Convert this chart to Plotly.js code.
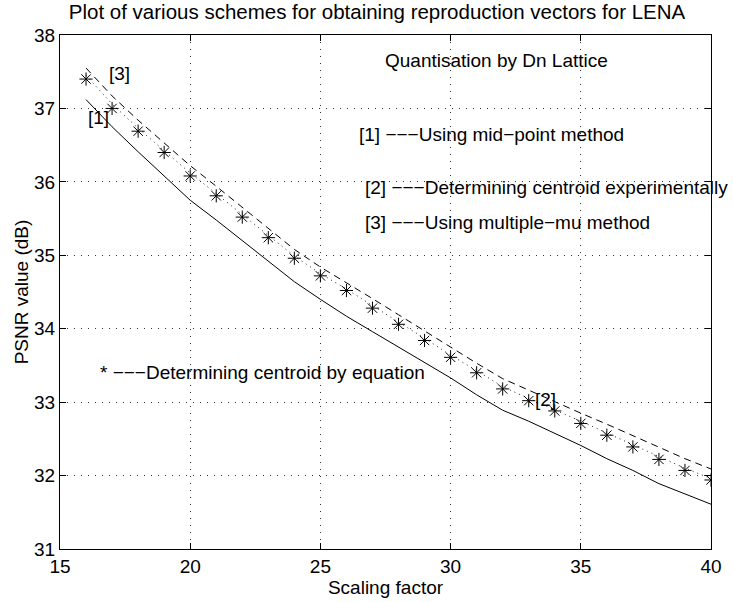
<!DOCTYPE html>
<html>
<head>
<meta charset="utf-8">
<script src="https://cdn.plot.ly/plotly-3.0.1.min.js"></script>
<style>
  html, body { margin: 0; padding: 0; background: #fff; }
  #chart { width: 733px; height: 602px; }
</style>
</head>
<body>
<div id="chart"></div>
<script>
// Scaling factors used for the Dn lattice quantiser
const scaling = [16, 17, 18, 19, 20, 21, 22, 23, 24, 25, 26, 27, 28, 29, 30,
                 31, 32, 33, 34, 35, 36, 37, 38, 39, 40];

// [1] mid-point method (solid)
const psnrMidpoint = [37.12, 36.75, 36.41, 36.08, 35.75, 35.48, 35.20, 34.93, 34.64, 34.40,
                      34.17, 33.96, 33.75, 33.55, 33.33, 33.10, 32.89, 32.74, 32.58, 32.41,
                      32.23, 32.07, 31.89, 31.75, 31.61];

// [2] centroid determined experimentally (dotted)
const psnrExperimental = [37.45, 37.06, 36.73, 36.43, 36.12, 35.84, 35.55, 35.27, 34.99, 34.75,
                          34.54, 34.31, 34.09, 33.87, 33.64, 33.43, 33.21, 33.05, 32.90, 32.74,
                          32.58, 32.42, 32.25, 32.10, 31.96];

// [3] multiple-mu method (dashed)
const psnrMultipleMu = [37.55, 37.17, 36.84, 36.53, 36.22, 35.94, 35.65, 35.37, 35.08, 34.84,
                        34.63, 34.41, 34.19, 33.97, 33.74, 33.53, 33.32, 33.16, 33.00, 32.85,
                        32.70, 32.54, 32.38, 32.23, 32.09];

// * centroid determined by equation (markers)
const psnrEquation = [37.40, 37.00, 36.69, 36.40, 36.08, 35.81, 35.52, 35.24, 34.96, 34.72,
                      34.52, 34.28, 34.06, 33.84, 33.61, 33.40, 33.18, 33.02, 32.88, 32.71,
                      32.55, 32.39, 32.22, 32.07, 31.94];

const xTicks = [15, 20, 25, 30, 35, 40];
const yTicks = [31, 32, 33, 34, 35, 36, 37, 38];

const FONT = 'Liberation Sans, Arial, Helvetica, sans-serif';
const FS = 19;

const traces = [
  { x: scaling, y: psnrMidpoint, mode: 'lines', name: '[1]',
    line: { color: '#000', width: 1 } },
  { x: scaling, y: psnrExperimental, mode: 'lines', name: '[2]',
    line: { color: '#222', width: 1, dash: '1px,4px' } },
  { x: scaling, y: psnrMultipleMu, mode: 'lines', name: '[3]',
    line: { color: '#000', width: 1, dash: '7px,5px' } },
  { x: scaling, y: psnrEquation, mode: 'markers', name: '*',
    marker: { symbol: 'asterisk-open', size: 11, color: '#000',
              line: { color: '#000', width: 1 } } }
];

function note(text, x, y, anchor) {
  return { text: text, x: x, y: y, xref: 'x', yref: 'y',
           xanchor: anchor || 'left', yanchor: 'middle', showarrow: false,
           font: { family: FONT, size: FS, color: '#000' } };
}

const axisCommon = {
  showline: true, linecolor: '#000', linewidth: 1, mirror: 'ticks',
  ticks: 'inside', ticklen: 6, tickwidth: 1, tickcolor: '#000',
  showgrid: true, gridcolor: '#333', gridwidth: 1, griddash: '1px,6px',
  zeroline: false, tickfont: { family: FONT, size: FS, color: '#000' }
};

const layout = {
  width: 733, height: 602,
  margin: { l: 60, r: 22, t: 35, b: 53 },
  paper_bgcolor: '#fff', plot_bgcolor: '#fff',
  showlegend: false,
  font: { family: FONT, size: FS, color: '#000' },
  title: { text: 'Plot of various schemes for obtaining reproduction vectors for LENA',
           xref: 'paper', x: 0.487, yref: 'container', y: 0.981, yanchor: 'middle',
           font: { family: FONT, size: 20.5, color: '#000' } },
  xaxis: Object.assign({}, axisCommon, {
    range: [15, 40], tickvals: xTicks, ticktext: xTicks.map(String),
    title: { text: 'Scaling factor', standoff: 4, font: { family: FONT, size: FS } }
  }),
  yaxis: Object.assign({}, axisCommon, {
    range: [31, 38], tickvals: yTicks, ticktext: yTicks.map(String),
    title: { text: 'PSNR value (dB)', standoff: 0, font: { family: FONT, size: FS } }
  }),
  annotations: [
    note('Quantisation by Dn Lattice', 31.78, 37.65, 'center'),
    note('[1] \u2212\u2212\u2212Using mid\u2212point method', 26.41, 36.64),
    note('[2] \u2212\u2212\u2212Determining centroid experimentally', 26.64, 35.93),
    note('[3] \u2212\u2212\u2212Using multiple\u2212mu method', 26.64, 35.45),
    note('* \u2212\u2212\u2212Determining centroid by equation', 16.46, 33.41),
    note('[3]', 16.80, 37.48),
    note('[1]', 16.00, 36.87),
    note('[2]', 33.16, 33.03)
  ]
};

Plotly.newPlot('chart', traces, layout, { displayModeBar: false, staticPlot: true });
</script>
</body>
</html>
